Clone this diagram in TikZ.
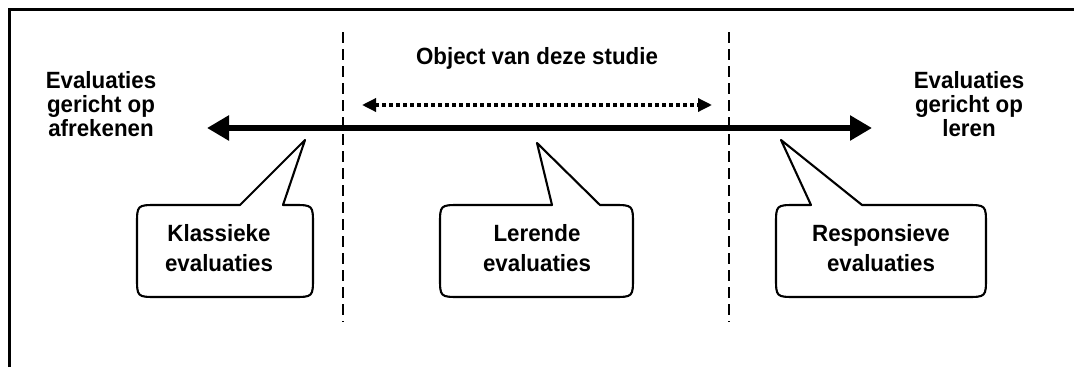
\documentclass[tikz,border=0pt]{standalone}
\usepackage{fontspec}
\setmainfont{Liberation Sans}[FakeStretch=0.95]
\usetikzlibrary{arrows.meta}
\begin{document}
\begin{tikzpicture}[x=1pt,y=-1pt,
  lbl/.style={font=\bfseries\fontsize{23.5}{24}\selectfont, align=center, inner sep=0pt},
  clbl/.style={font=\bfseries\fontsize{23.5}{30}\selectfont, align=center, inner sep=0pt},
  divider/.style={line width=2.8pt, dash pattern=on 11pt off 6pt},
  callout/.style={draw=black, line width=2.1pt, fill=white, line join=round}]
\useasboundingbox (0,0) rectangle (1074,367);
% frame
\draw[line width=2.4pt] (9.5,367) -- (9.5,9.5) -- (1074,9.5);
% texts
\node[lbl] (left) at (101,104) {Evaluaties\\gericht op\\afrekenen};
\node[lbl] (right) at (969,104) {Evaluaties\\gericht op\\leren};
\node[lbl] (obj) at (537,58) {Object van deze studie};
% dividers
\coordinate (d1t) at (343,32); \coordinate (d1b) at (343,322);
\coordinate (d2t) at (729,32); \coordinate (d2b) at (729,322);
\draw[divider] (d1t) -- (d1b);
\draw[divider] (d2t) -- (d2b);
% main arrow
\coordinate (al) at (207,128); \coordinate (ar) at (872,128);
\draw[line width=6.5pt, {Triangle[length=22pt,width=24pt]}-{Triangle[length=22pt,width=24pt]}] (al) -- (ar);
% dotted arrow
\coordinate (ol) at (362,105); \coordinate (or) at (712,105);
\draw[line width=3.3pt, dash pattern=on 3.5pt off 3.5pt, {Triangle[length=14pt,width=13pt]}-{Triangle[length=14pt,width=13pt]}] (ol) -- (or);
% callouts
\newcommand{\callout}[8]{% x1 x2 y1 y2 b1 b2 tipx tipy
  \draw[callout] (#7,#8) -- (#6,#3) -- (#2-20,#3) .. controls (#2,#3) .. (#2,#3+20)
    -- (#2,#4-20) .. controls (#2,#4) .. (#2-20,#4) -- (#1+20,#4) .. controls (#1,#4) .. (#1,#4-20)
    -- (#1,#3+20) .. controls (#1,#3) .. (#1+20,#3) -- (#5,#3) -- cycle;}
\callout{137}{313}{205}{297}{240}{283}{305}{140}
\callout{440}{633}{205}{297}{552}{600}{537}{143}
\callout{776}{986}{205}{297}{811}{862}{781}{140}
\node[clbl] (klas) at (219,248) {Klassieke\\evaluaties};
\node[clbl] (ler) at (537,248) {Lerende\\evaluaties};
\node[clbl] (resp) at (881,248) {Responsieve\\evaluaties};
\end{tikzpicture}
\end{document}
